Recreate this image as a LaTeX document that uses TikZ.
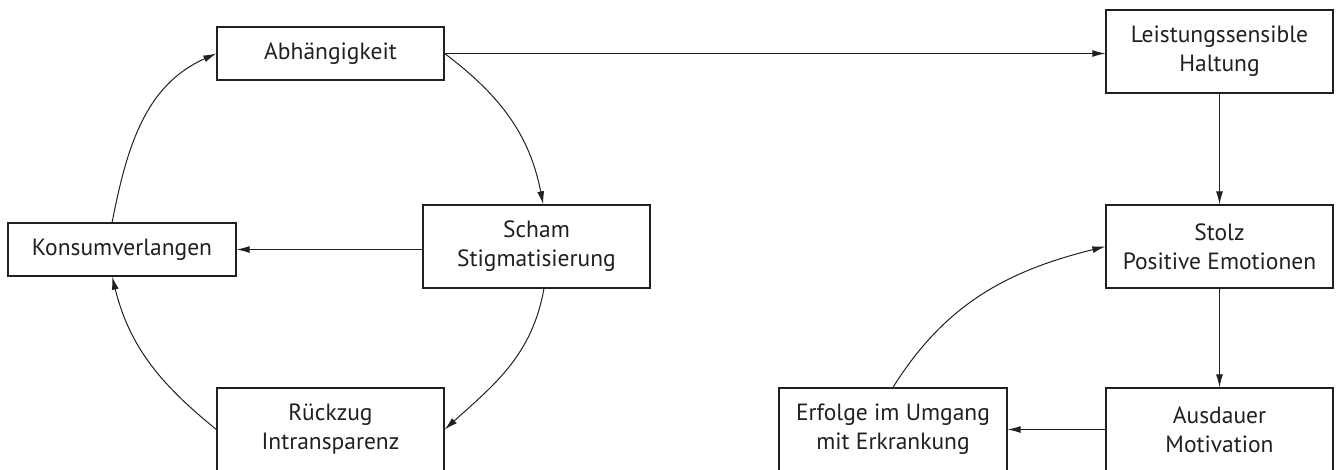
\documentclass[tikz,border=0pt]{standalone}
\usepackage{fontspec}
\setmainfont{PT Sans}
\usepackage{tikz}
\usetikzlibrary{calc,arrows.meta}
\definecolor{ink}{HTML}{231F20}

\begin{document}
\begin{tikzpicture}[x=1pt,y=1pt,
    box/.style={draw=ink,line width=1.3pt,text=ink,minimum width=227pt,inner sep=0pt,align=center,font=\fontsize{23.5}{29}\selectfont},
    onebox/.style={box,minimum height=53pt},
    twobox/.style={box,minimum height=83pt},
    link/.style={draw=ink,line width=1pt,-{Latex[length=13pt,width=7pt]}}]
              \useasboundingbox (0,0) rectangle (1336,470);
              \node[onebox](abh)at(330.5,416.5){Abhängigkeit};
              \node[onebox,minimum width=228pt](kons)at(122,220.5){Konsumverlangen};
              \node[twobox](scham)at(536.5,223.5){Scham\\Stigmatisierung};
              \node[twobox](rueck)at(330.5,40.5){Rückzug\\Intransparenz};
              \node[twobox](leist)at(1219.5,418.5){Leistungssensible\\Haltung};
              \node[twobox](stolz)at(1219.5,223.5){Stolz\\Positive Emotionen};
              \node[twobox](ausd)at(1219.5,40.5){Ausdauer\\Motivation};
              \node[twobox,minimum width=228pt](erf)at(893,40.5){Erfolge im Umgang\\mit Erkrankung};
              \draw[link](abh.east)--(abh.east-|leist.west);
              \draw[link](leist)--(stolz);
              \draw[link](stolz)--(ausd);
              \draw[link](ausd)--(erf);
              \draw[link](scham.west|-kons.east)--(kons.east);
              \draw[link](erf.north)to[out=58,in=194](stolz.west);
              \draw[link](kons.110)to[out=79,in=204](abh.west);
              \draw[link](abh.east)to[out=-37,in=101](scham.81);
              \draw[link](scham.-80)to[out=-100,in=42](rueck.east);
              \draw[link](rueck.west)to[out=141,in=-76](kons.-110);
            \end{tikzpicture}
\end{document}
